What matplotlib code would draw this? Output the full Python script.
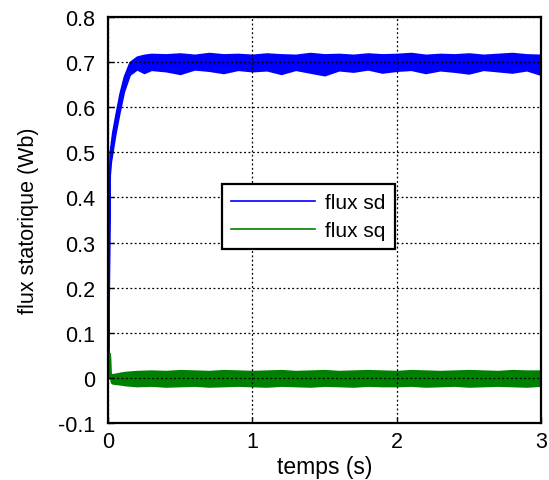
import numpy as np
import matplotlib
matplotlib.use("Agg")
import matplotlib.pyplot as plt

plt.rcParams['font.family'] = ['Liberation Sans', 'DejaVu Sans']

# flux sd: ripple envelope (lower / upper) over time
t_sd = [0.0, 0.002, 0.004, 0.008, 0.012, 0.02, 0.03, 0.05, 0.08, 0.11, 0.15, 0.2,
        0.25, 0.3, 0.4, 0.5, 0.6, 0.7, 0.8, 0.9, 1.0, 1.1, 1.2, 1.3, 1.4, 1.5,
        1.6, 1.7, 1.8, 1.9, 2.0, 2.1, 2.2, 2.3, 2.4, 2.5, 2.6, 2.7, 2.8, 2.9, 3.0]
sd_lo = [0.0, 0.10, 0.14, 0.30, 0.45, 0.48, 0.50, 0.54, 0.59, 0.635, 0.672, 0.684,
         0.676, 0.683, 0.680, 0.674, 0.684, 0.681, 0.676, 0.683, 0.680, 0.682, 0.674,
         0.683, 0.677, 0.671, 0.682, 0.679, 0.684, 0.677, 0.681, 0.683, 0.676, 0.682,
         0.679, 0.675, 0.683, 0.680, 0.677, 0.682, 0.672]
sd_hi = [0.0, 0.14, 0.15, 0.45, 0.50, 0.52, 0.545, 0.58, 0.63, 0.668, 0.70, 0.712,
         0.716, 0.718, 0.717, 0.719, 0.716, 0.720, 0.717, 0.718, 0.716, 0.719, 0.717,
         0.716, 0.720, 0.717, 0.718, 0.716, 0.719, 0.717, 0.718, 0.720, 0.716, 0.718,
         0.717, 0.719, 0.716, 0.718, 0.720, 0.717, 0.716]

# flux sq: ripple envelope around zero with the start-up spike
t_sq = [0.0, 0.003, 0.006, 0.01, 0.014, 0.018, 0.022, 0.03, 0.05, 0.08, 0.12, 0.2,
        0.3, 0.4, 0.5, 0.6, 0.7, 0.8, 0.9, 1.0, 1.1, 1.2, 1.3, 1.4, 1.5, 1.6,
        1.7, 1.8, 1.9, 2.0, 2.1, 2.2, 2.3, 2.4, 2.5, 2.6, 2.7, 2.8, 2.9, 3.0]
sq_lo = [0.0, 0.0, 0.005, 0.01, 0.01, -0.004, -0.010, -0.012, -0.013, -0.014, -0.016,
         -0.018, -0.017, -0.019, -0.018, -0.017, -0.019, -0.018, -0.017, -0.018, -0.019,
         -0.017, -0.018, -0.019, -0.017, -0.018, -0.019, -0.017, -0.018, -0.018, -0.017,
         -0.019, -0.018, -0.017, -0.019, -0.018, -0.017, -0.018, -0.019, -0.017]
sq_hi = [0.0, 0.03, 0.05, 0.055, 0.045, 0.012, 0.008, 0.008, 0.009, 0.011, 0.013, 0.015,
         0.016, 0.015, 0.017, 0.016, 0.015, 0.017, 0.016, 0.015, 0.016, 0.017, 0.015,
         0.016, 0.017, 0.015, 0.016, 0.017, 0.016, 0.015, 0.017, 0.016, 0.015, 0.016,
         0.017, 0.016, 0.015, 0.017, 0.016, 0.016]

x_ticks = [0, 1, 2, 3]
y_ticks = [-0.1, 0, 0.1, 0.2, 0.3, 0.4, 0.5, 0.6, 0.7, 0.8]

blue = (0, 0, 1)
green = (0, 0.5, 0)

fig = plt.figure(figsize=(5.49, 4.81), dpi=100)
ax = fig.add_axes([0.1967, 0.1185, 0.7887, 0.8441])

ax.fill_between(t_sd, sd_lo, sd_hi, color=blue, lw=1.2, edgecolor=blue)
ax.fill_between(t_sq, sq_lo, sq_hi, color=green, lw=1.2, edgecolor=green)
ax.plot([], [], color=blue, lw=1.2, label='flux sd')
ax.plot([], [], color=green, lw=1.2, label='flux sq')

ax.set_xlim(0, 3)
ax.set_ylim(-0.1, 0.8)
ax.set_xticks(x_ticks)
ax.set_xticklabels([str(v) for v in x_ticks])
ax.set_yticks(y_ticks)
ax.set_yticklabels(['-0.1', '0'] + ['%.1f' % v for v in y_ticks[2:]])
ax.tick_params(direction='in', length=4, width=1, labelsize=15.5)
ax.tick_params(axis='y', pad=9)
ax.tick_params(axis='x', pad=6)
ax.grid(True, color='black', linestyle=(0, (1.5, 2)), lw=0.9)
for s in ax.spines.values():
    s.set_linewidth(1.6)

ax.set_xlabel('temps (s)', fontsize=16.5, labelpad=2)
ax.set_ylabel('flux statorique (Wb)', fontsize=15.5, labelpad=14)

leg = ax.legend(loc='upper left', bbox_to_anchor=(0.263, 0.589), fontsize=15,
                handlelength=4.0, frameon=True, fancybox=False, framealpha=1,
                borderpad=0.45, borderaxespad=0, labelspacing=0.42,
                handletextpad=0.5)
leg.get_frame().set_edgecolor('black')
leg.get_frame().set_linewidth(1.6)

fig.savefig('out.png', dpi=100)
